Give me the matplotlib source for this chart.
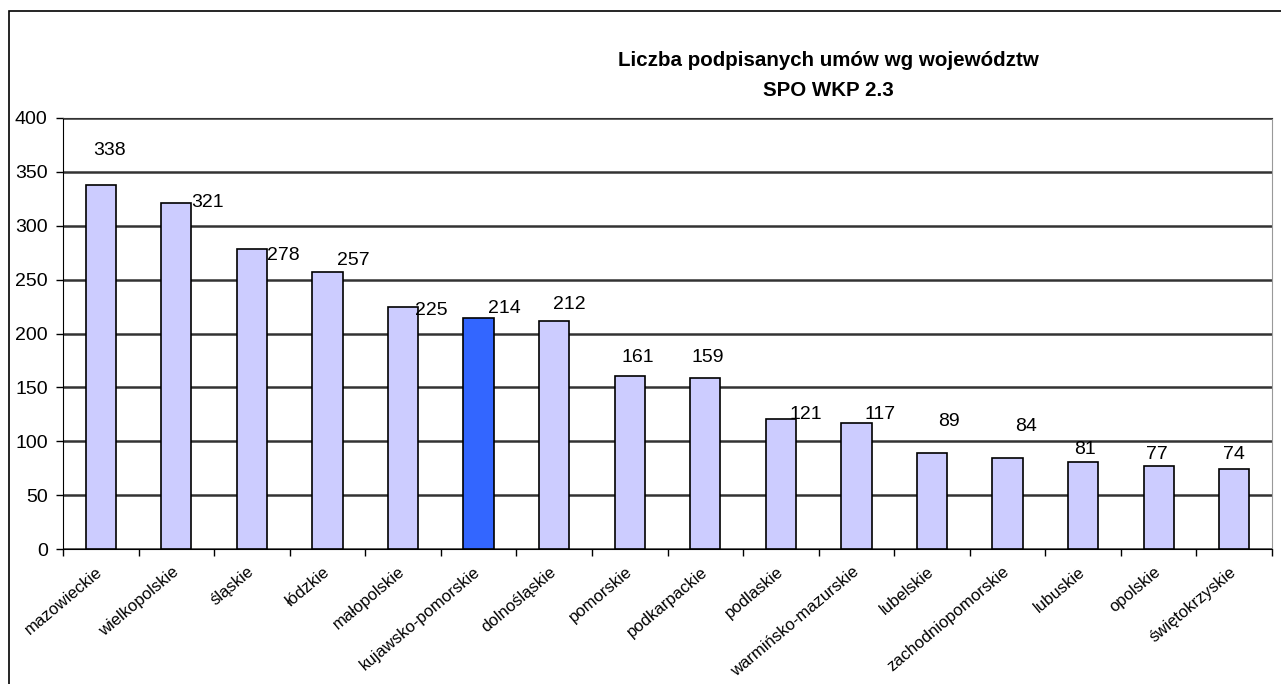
import numpy as np
import matplotlib
matplotlib.use("Agg")
import matplotlib.pyplot as plt
from matplotlib.patches import Rectangle

# ===== DATA =====
regions = [
    "mazowieckie", "wielkopolskie", "śląskie", "łódzkie", "małopolskie",
    "kujawsko-pomorskie", "dolnośląskie", "pomorskie", "podkarpackie",
    "podlaskie", "warmińsko-mazurskie", "lubelskie", "zachodniopomorskie",
    "lubuskie", "opolskie", "świętokrzyskie",
]
umowy = [338, 321, 278, 257, 225, 214, 212, 161, 159, 121, 117, 89, 84, 81, 77, 74]
highlight = "kujawsko-pomorskie"

# label placement offsets (category units, value units) - Excel put them oddly
label_dx = [0.12, 0.41, 0.41, 0.34, 0.38, 0.34, 0.20, 0.11, 0.03,
            0.33, 0.31, 0.22, 0.24, 0.03, -0.02, 0.0]
label_dy = [32, 1, -6, 11, -4, 9, 15, 17, 19, 4, 8, 29, 30, 11, 11, 14]

plt.rcParams["font.family"] = ["Liberation Sans", "DejaVu Sans"]

fig = plt.figure(figsize=(12.81, 6.84), dpi=100)
ax = fig.add_axes([63 / 1281, 1 - 549 / 684, (1272 - 63) / 1281, (549 - 118) / 684])

x = np.arange(len(regions))
colors = ["#3366FF" if r == highlight else "#CCCCFF" for r in regions]
ax.bar(x, umowy, width=0.40, color=colors, edgecolor="black", linewidth=1.2, zorder=3)

for i, v in enumerate(umowy):
    ax.text(x[i] + label_dx[i], v + label_dy[i], str(v), ha="center", va="center",
            fontsize=14, zorder=4)

# ===== AXES =====
ax.set_xlim(-0.5, len(regions) - 0.5)
ax.set_ylim(0, 400)
ax.set_yticks(np.arange(0, 401, 50))
ax.tick_params(axis="y", labelsize=14, length=5, width=1, pad=6, direction="out")
ax.yaxis.grid(True, color="#333333", linewidth=1.8, zorder=1)

ax.set_xticks(x)
ax.set_xticklabels(regions, rotation=40, ha="right", va="center",
                   rotation_mode="anchor", fontsize=12)
ax.tick_params(axis="x", which="major", length=0, pad=15)
ax.set_xticks(np.arange(-0.5, len(regions), 1), minor=True)
ax.tick_params(axis="x", which="minor", length=5, width=1, direction="out")

ax.spines["left"].set_color("black")
ax.spines["bottom"].set_color("black")
ax.spines["top"].set_color("#333333")
ax.spines["right"].set_color("#999999")

# ===== TITLE + OUTER FRAME =====
fig.text(828 / 1281, 1 - 61 / 684, "Liczba podpisanych umów wg województw",
         ha="center", va="center", fontsize=14.8, fontweight="bold")
fig.text(828 / 1281, 1 - 90 / 684, "SPO WKP 2.3",
         ha="center", va="center", fontsize=14.8, fontweight="bold")

fig.patches.append(Rectangle((9 / 1281, -0.5), 2, 1.5 - 11 / 684,
                             transform=fig.transFigure, fill=False,
                             edgecolor="black", linewidth=1.2))

fig.savefig("out.png", dpi=100)
